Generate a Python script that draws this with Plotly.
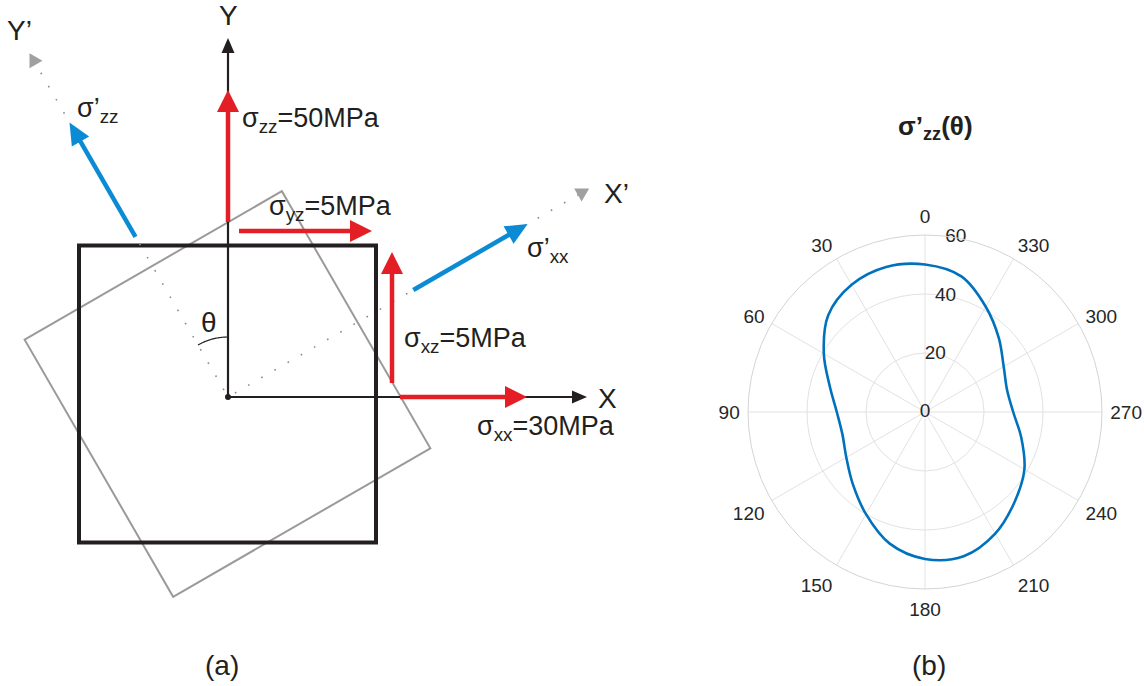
import numpy as np
import plotly.graph_objects as go

# ---------------------------------------------------------------- data
# applied stress state (MPa)
sigma_zz = 50
sigma_xx = 30
sigma_yz = 5
sigma_xz = 5

# rotated normal stress sigma'_zz read around the rotation angle (deg)
theta_deg = [0, 15, 30, 45, 60, 75, 90, 105, 120, 135, 150, 165,
             180, 195, 210, 225, 240, 255, 270, 285, 300, 315, 330, 345, 360]
sigma_zz_rot = [50.0, 50.9, 49.8, 46.4, 39.6, 33.4, 29.9, 29.0, 30.8, 34.6, 40.0, 46.2,
                49.8, 50.6, 47.6, 43.0, 38.9, 33.8, 29.9, 28.8, 30.8, 35.4, 41.2, 47.6, 50.0]

angular_ticks = list(range(0, 360, 30))
angular_labels = [str(a) for a in angular_ticks]
radial_ticks = [0, 20, 40, 60]
radial_labels = [str(r) for r in radial_ticks]
RADIAL_LABEL_THETA = 350          # radial labels sit on a ray just right of 0 deg

# ---------------------------------------------------------------- page geometry
W, H = 1144, 686
ORIGIN_PX = (228, 397)            # where the X/Y axes of the sketch meet
POLAR_CENTER_PX = (925, 412)
POLAR_RADIUS_PX = 177

# sketch units: 1 unit = 1 px, origin at the axis crossing, y upward
X_RANGE = [-ORIGIN_PX[0], W - ORIGIN_PX[0]]
Y_RANGE = [ORIGIN_PX[1] - H, ORIGIN_PX[1]]

ROT = 30.0                       # rotation of the primed frame (deg)
SQUARE_CENTER = (-0.5, 3.0)
SQUARE_HALF = 148.5
AXIS_LEN = 359
PRIME_Y_LEN = 397
PRIME_X_LEN = 417
ARC_R = 60

DARK = "#231f20"
RED = "#e31e24"
BLUE = "#0b8bd3"
GRAY = "#9a9a9a"
DOT = "#8a8a8a"
TXT = "#262626"
FONT = "Liberation Sans, Arial, sans-serif"

shapes = []
annotations = []


def unit(deg):
    r = np.radians(deg)
    return np.array([np.cos(r), np.sin(r)])


def path_from(points, close=False):
    s = "M " + " L ".join(f"{p[0]:.2f},{p[1]:.2f}" for p in points)
    return s + (" Z" if close else "")


def add_line(p0, p1, color, width, dash="solid"):
    shapes.append(dict(type="line", xref="x", yref="y",
                       x0=p0[0], y0=p0[1], x1=p1[0], y1=p1[1],
                       line=dict(color=color, width=width, dash=dash)))


def add_head(tip, direction, length, width, color):
    d = direction / np.linalg.norm(direction)
    n = np.array([-d[1], d[0]])
    base = tip - d * length
    pts = [tip, base + n * width / 2, base - n * width / 2]
    shapes.append(dict(type="path", xref="x", yref="y", path=path_from(pts, True),
                       fillcolor=color, line=dict(width=0)))


def add_arrow(start, tip, color, width, head_len, head_w):
    start = np.asarray(start, float)
    tip = np.asarray(tip, float)
    d = (tip - start) / np.linalg.norm(tip - start)
    add_line(start, tip - d * head_len * 0.7, color, width)
    add_head(tip, d, head_len, head_w, color)


def square_corners(center, half, rot_deg):
    c = np.asarray(center, float)
    ex, ey = unit(rot_deg), unit(rot_deg + 90)
    return [c + ex * sx * half + ey * sy * half
            for sx, sy in [(-1, -1), (1, -1), (1, 1), (-1, 1)]]


# rotated element (behind) and reference element
shapes.append(dict(type="path", xref="x", yref="y",
                   path=path_from(square_corners(SQUARE_CENTER, SQUARE_HALF, ROT), True),
                   line=dict(color=GRAY, width=2)))
shapes.append(dict(type="path", xref="x", yref="y",
                   path=path_from(square_corners(SQUARE_CENTER, SQUARE_HALF, 0), True),
                   line=dict(color=DARK, width=4)))

# primed axes: dotted lines ending with small equilateral heads
for ang, length in [(90 + ROT, PRIME_Y_LEN), (ROT, PRIME_X_LEN)]:
    d = unit(ang)
    side = 15
    add_line(d * 8, d * (length - side * 0.8), DOT, 1.6, dash="1.6px,13.6px")
    add_head(d * length, d, side * np.sqrt(3) / 2, side, "#a0a0a0")

# X / Y axes
add_arrow((0, 0), (0, AXIS_LEN), DARK, 2.2, 15, 13)
add_arrow((0, 0), (AXIS_LEN, 0), DARK, 2.2, 15, 13)

# angle arc
arc = [ARC_R * unit(a) for a in np.linspace(90, 90 + ROT, 30)]
shapes.append(dict(type="path", xref="x", yref="y", path=path_from(arc),
                   line=dict(color=DARK, width=1.2)))

# origin dot
shapes.append(dict(type="circle", xref="x", yref="y", x0=-3, y0=-3, x1=3, y1=3,
                   fillcolor=DARK, line=dict(width=0)))

# applied stresses
add_arrow((0, 175), (0, 307), RED, 4.5, 22, 22)
add_arrow((11, 166), (144, 166), RED, 4.5, 22, 22)
add_arrow((164, 14), (164, 145), RED, 4.5, 22, 22)
add_arrow((172, 0), (299, 0), RED, 4.5, 22, 22)

# rotated normal stresses
add_arrow(unit(90 + ROT) * 185, unit(90 + ROT) * 317, BLUE, 4.5, 22, 20)
add_arrow(unit(ROT) * 214, unit(ROT) * 346, BLUE, 4.5, 22, 20)


def label(x, y, text, size=27, xanchor="left", bold=False):
    annotations.append(dict(x=x, y=y, xref="x", yref="y", text=text, showarrow=False,
                            xanchor=xanchor, yanchor="middle",
                            font=dict(family=FONT, size=size, color=DARK,
                                      weight="bold" if bold else "normal")))


label(0, 382, "Y", 28, "center")
label(379, -1, "X", 28, "center")
label(-209, 367, "Y’", 28, "center")
label(388, 204, "X’", 28, "center")
label(12, 277, f"σ<sub>zz</sub>={sigma_zz}MPa")
label(39, 189, f"σ<sub>yz</sub>={sigma_yz}MPa")
label(174, 57, f"σ<sub>xz</sub>={sigma_xz}MPa")
label(247, -31, f"σ<sub>xx</sub>={sigma_xx}MPa")
label(-153, 287, "σ’<sub>zz</sub>")
label(297, 147, "σ’<sub>xx</sub>")
label(-19, 75, "θ", 28, "center")
label(-6, -268, "(a)", 28, "center")
label(701, -268, "(b)", 28, "center")
label(707, 270, "σ’<sub>zz</sub>(θ)", 26, "center", bold=True)

# ---------------------------------------------------------------- figure
fig = go.Figure()

fig.add_trace(go.Scatterpolar(
    r=sigma_zz_rot, theta=theta_deg, mode="lines",
    line=dict(color="#0072bd", width=2.6, shape="spline", smoothing=1),
    showlegend=False, hoverinfo="skip"))

# radial tick labels placed on the ray through the polar scale
fig.add_trace(go.Scatterpolar(
    r=radial_ticks, theta=[RADIAL_LABEL_THETA] * len(radial_ticks),
    mode="text", text=radial_labels, textposition="middle center",
    textfont=dict(family=FONT, size=19, color=TXT), cliponaxis=False,
    showlegend=False, hoverinfo="skip"))

cx, cy = POLAR_CENTER_PX
R = POLAR_RADIUS_PX
fig.update_layout(
    width=W, height=H,
    margin=dict(l=0, r=0, t=0, b=0),
    paper_bgcolor="white", plot_bgcolor="white",
    showlegend=False,
    xaxis=dict(range=X_RANGE, visible=False, fixedrange=True, domain=[0, 1]),
    yaxis=dict(range=Y_RANGE, visible=False, fixedrange=True, domain=[0, 1]),
    shapes=shapes,
    annotations=annotations,
    polar=dict(
        domain=dict(x=[(cx - R) / W, (cx + R) / W],
                    y=[(H - cy - R) / H, (H - cy + R) / H]),
        bgcolor="white",
        angularaxis=dict(rotation=90, direction="counterclockwise",
                         tickmode="array", tickvals=angular_ticks, ticktext=angular_labels,
                         ticks="outside", ticklen=4, tickcolor="rgba(0,0,0,0)",
                         showline=True, linecolor="#d4d4d4", linewidth=1,
                         gridcolor="#e2e2e2", gridwidth=1,
                         tickfont=dict(family=FONT, size=19, color=TXT)),
        radialaxis=dict(range=[0, 60], tickmode="array", tickvals=radial_ticks,
                        showticklabels=False, angle=90,
                        showline=False, ticks="", gridcolor="#e2e2e2", gridwidth=1),
    ),
)

fig.write_html("out.html")
